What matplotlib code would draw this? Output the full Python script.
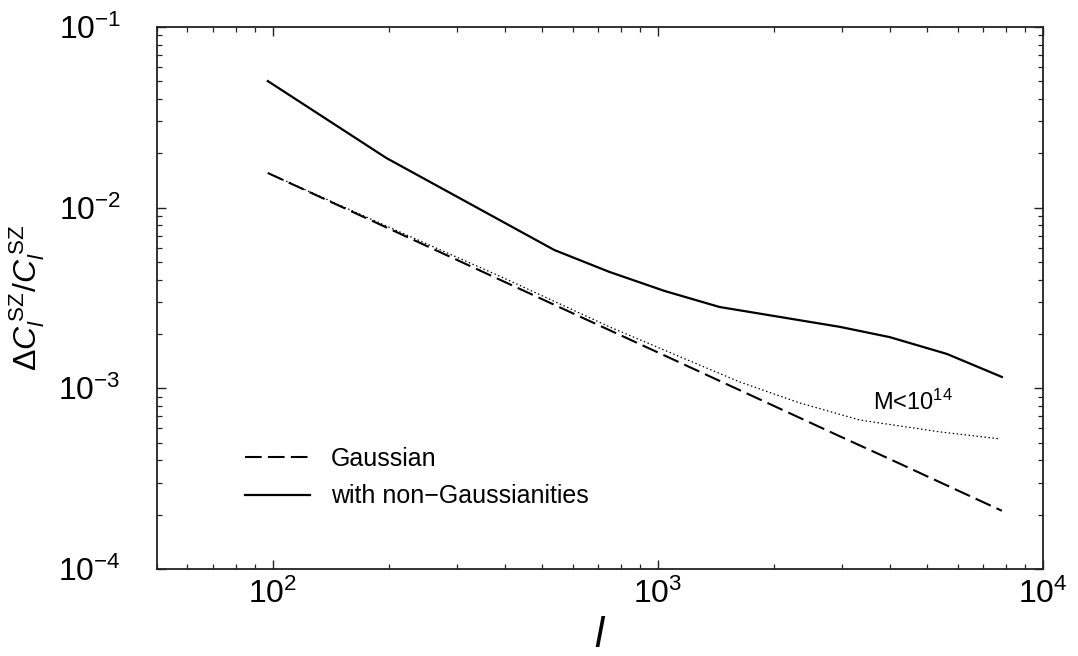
"""
Fractional error of the SZ power spectrum vs multipole l:
Gaussian-only, with non-Gaussian terms, and the M<1e14 case.
"""
import matplotlib
matplotlib.use("Agg")
import matplotlib.pyplot as plt
from matplotlib.ticker import LogLocator, NullFormatter

plt.rcParams["font.family"] = ["Liberation Sans", "DejaVu Sans"]
plt.rcParams["mathtext.fontset"] = "custom"
plt.rcParams["mathtext.rm"] = "Liberation Sans"
plt.rcParams["mathtext.it"] = "Liberation Sans:italic"
plt.rcParams["mathtext.bf"] = "Liberation Sans:bold"

ell = [97, 197, 538, 748, 1040, 1445, 2965, 4000, 5630, 7820]
gaussian = [0.01556, 0.00778, 0.00290, 0.00210, 0.00152, 0.00110,
            0.000543, 0.000406, 0.000290, 0.000210]
non_gauss = [0.0502, 0.01884, 0.00583, 0.00441, 0.00346, 0.00282,
             0.00219, 0.00192, 0.00155, 0.001156]

# low-mass (M < 1e14) curve
ell_lowm = [97, 197, 387, 748, 1208, 1630, 2334, 3342, 5395, 7730]
low_mass = [0.01556, 0.00792, 0.00419, 0.00219, 0.00142, 0.001085,
            0.000830, 0.000668, 0.000574, 0.000525]

W, H, DPI = 1078, 656, 100
fig = plt.figure(figsize=(W / DPI, H / DPI), dpi=DPI)
ax = fig.add_axes([157 / W, 1 - 569 / H, (1043 - 157) / W, (569 - 27) / H])

ax.plot(ell, gaussian, color="black", lw=1.5, ls=(0, (8, 3)), label="Gaussian")
ax.plot(ell, non_gauss, color="black", lw=1.6, label="with non\u2212Gaussianities")
ax.plot(ell_lowm, low_mass, color="black", lw=0.9, ls=(0, (1.2, 2.0)))

ax.set_xscale("log")
ax.set_yscale("log")
ax.set_xlim(50, 1e4)
ax.set_ylim(1e-4, 1e-1)

ax.xaxis.set_major_locator(LogLocator(base=10, numticks=10))
ax.xaxis.set_minor_locator(LogLocator(base=10, subs=range(2, 10), numticks=20))
ax.yaxis.set_major_locator(LogLocator(base=10, numticks=10))
ax.yaxis.set_minor_locator(LogLocator(base=10, subs=range(2, 10), numticks=20))
ax.xaxis.set_minor_formatter(NullFormatter())
ax.yaxis.set_minor_formatter(NullFormatter())

ax.tick_params(which="both", direction="in", top=True, right=True, color="#222222")
ax.tick_params(which="major", length=6.5, width=1.0, labelsize=23)
ax.tick_params(which="minor", length=3.5, width=0.9)
ax.tick_params(axis="y", which="major", pad=26)
ax.tick_params(axis="x", which="major", pad=7)
for sp in ax.spines.values():
    sp.set_linewidth(1.3)
    sp.set_color("#222222")

ax.set_xlabel(r"$\mathit{l}$", fontsize=30, labelpad=4)
ax.set_ylabel(r"$\Delta C_{\mathit{l}}^{\,\mathrm{SZ}}/C_{\mathit{l}}^{\,\mathrm{SZ}}$",
              fontsize=23, labelpad=8)

ax.text(3614, 7.6e-4, r"M<10$^{14}$", fontsize=17, ha="left", va="baseline")

ax.legend(loc="upper left", bbox_to_anchor=(0.099, 0.226), frameon=False,
          fontsize=18, handlelength=2.6, handletextpad=0.85, borderpad=0,
          borderaxespad=0, labelspacing=0.55)

fig.savefig("out.png", dpi=DPI)
